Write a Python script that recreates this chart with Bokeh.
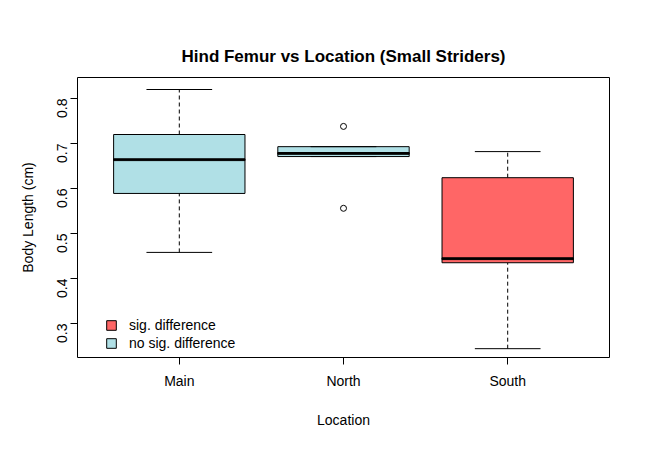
from bokeh.plotting import figure
from bokeh.models import FixedTicker, Legend, LegendItem, ColumnDataSource
from bokeh.embed import file_html
from bokeh.resources import INLINE

locations = ["Main", "North", "South"]
lower = [0.458, 0.671, 0.244]
q1 = [0.589, 0.671, 0.435]
median = [0.664, 0.678, 0.444]
q3 = [0.720, 0.693, 0.624]
upper = [0.820, 0.693, 0.682]
out_x = [2, 2]
out_y = [0.738, 0.556]
colors = ["#B0E0E6", "#B0E0E6", "#FF6666"]

xs = [1, 2, 3]
p = figure(width=633, height=441, x_range=(0.38, 3.62), y_range=(0.2244, 0.8467),
           output_backend="svg", toolbar_location=None,
           min_border_left=77, min_border_right=24, min_border_top=77, min_border_bottom=84,
           title="Hind Femur vs Location (Small Striders)")
p.title.align = "center"
p.title.text_font = "Liberation Sans"
p.title.text_font_size = "17px"
p.title.text_font_style = "bold"
p.title.text_color = "black"
p.title.standoff = 23
p.grid.visible = False
p.outline_line_color = "black"

src = ColumnDataSource(dict(x=xs, lower=lower, q1=q1, median=median, q3=q3, upper=upper, color=colors,
                            cl=[x - 0.2 for x in xs], cr=[x + 0.2 for x in xs]))
p.segment(x0="x", x1="x", y0="q3", y1="upper", source=src, line_color="black", line_dash="4 3")
p.segment(x0="x", x1="x", y0="lower", y1="q1", source=src, line_color="black", line_dash="4 3")
p.vbar(x="x", width=0.8, bottom="q1", top="q3", source=src, fill_color="color", line_color="black")
p.rect(x="x", y="median", width=0.8, height=0.004, source=src, fill_color="black", line_color="black")
p.segment(x0="cl", x1="cr", y0="upper", y1="upper", source=src, line_color="black")
p.segment(x0="cl", x1="cr", y0="lower", y1="lower", source=src, line_color="black")
p.scatter(out_x, out_y, size=6, fill_color="white", line_color="black")

r1 = p.rect(x=[-10], y=[-10], width=1, height=1, fill_color="#FF6666", line_color="black")
r2 = p.rect(x=[-10], y=[-10], width=1, height=1, fill_color="#B0E0E6", line_color="black")
leg = Legend(items=[LegendItem(label="sig. difference", renderers=[r1]),
                    LegendItem(label="no sig. difference", renderers=[r2])],
             location=(28, 6), border_line_color=None, background_fill_alpha=0,
             glyph_width=12, glyph_height=12, label_text_font="Liberation Sans",
             label_text_font_size="14px", label_text_color="black",
             spacing=2, padding=4, label_standoff=12)
p.add_layout(leg)

p.xaxis.ticker = FixedTicker(ticks=xs)
p.xaxis.major_label_overrides = {1: "Main", 2: "North", 3: "South"}
p.yaxis.ticker = FixedTicker(ticks=[0.3, 0.4, 0.5, 0.6, 0.7, 0.8])
p.yaxis.major_label_orientation = 1.5708
for ax in (p.xaxis, p.yaxis):
    ax.axis_line_color = None
    ax.minor_tick_line_color = None
    ax.major_tick_line_color = "black"
    ax.major_tick_out = 7
    ax.major_tick_in = 0
    ax.major_label_text_font = "Liberation Sans"
    ax.major_label_text_font_size = "14px"
    ax.major_label_text_color = "black"
    ax.axis_label_text_font = "Liberation Sans"
    ax.axis_label_text_font_size = "14px"
    ax.axis_label_text_font_style = "normal"
    ax.axis_label_text_color = "black"
    ax.major_label_standoff = 8
p.xaxis.axis_label = "Location"
p.yaxis.axis_label = "Body Length (cm)"
p.xaxis.axis_label_standoff = 20
p.yaxis.axis_label_standoff = 14

open("out.html", "w").write(file_html(p, INLINE))
